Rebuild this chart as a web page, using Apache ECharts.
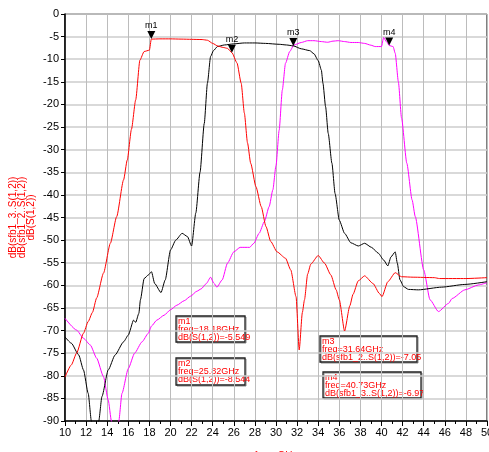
<!DOCTYPE html>
<html>
<head>
<meta charset="UTF-8">
<script src="https://cdn.jsdelivr.net/npm/echarts@6/dist/echarts.min.js"></script>
<style>
  html, body { margin: 0; padding: 0; background: #fff; }
  #chart { width: 489px; height: 452px; }
</style>
</head>
<body>
<div id="chart"></div>
<script>
// dB(S(1,2)) - red
const redFreq = [10, 10.6, 11.1, 11.75, 12.2, 12.6, 13, 13.65, 14.3, 14.9, 15.55, 15.9, 16.3, 16.7, 17.1, 17.5, 18, 18.18,
  19, 20, 21, 22, 23, 23.5, 24, 24.5, 25, 25.4, 25.82, 26.3, 26.7, 27, 27.3, 27.6, 28.1, 28.6, 29.05, 29.5, 30.1, 30.9,
  31.4, 31.9, 32.2, 32.5, 32.7, 33, 33.3, 34, 34.6, 35.2, 35.7, 36, 36.5, 37, 37.3, 37.8, 38.4, 39.2, 39.8, 40.05, 40.6,
  41.3, 41.9, 43, 45, 45.5, 48, 50];
const redDb = [-80.3, -77.6, -75, -70.6, -68, -66, -62.8, -57.3, -50.7, -44.8, -36.7, -32.3, -25.5, -19, -10.2, -8.3, -8, -5.55,
  -5.5, -5.5, -5.55, -5.6, -5.65, -5.8, -6.5, -7.1, -7.4, -7.6, -8.54, -10.8, -15.3, -21.9, -28.5, -33, -38.2, -42.6, -47, -50.3, -52.6, -54,
  -56.6, -62.5, -74.3, -66, -63.2, -57.5, -55.3, -53.4, -55.1, -57.7, -61, -63.2, -70.1, -64.5, -62, -59, -57.9, -59.6, -61.8, -62.5, -59.2,
  -57.2, -58.1, -58.2, -58.3, -58.5, -58.5, -58.3];

// dB(sfb1_2..S(1,2)) - black
const blackFreq = [10, 10.6, 11.3, 11.75, 12.2, 12.5, 12.85, 13.2, 13.5, 14.1, 14.75, 15.55, 16, 16.5, 16.7, 17, 17.15, 17.5, 17.9, 18.2,
  18.5, 19.1, 19.5, 20, 20.5, 21.1, 21.6, 22, 22.4, 22.8, 23.2, 23.5, 23.8, 24.07, 24.45, 25.1, 26, 27, 28, 29,
  30.3, 31, 31.64, 32.4, 33.2, 33.6, 34, 34.3, 34.45, 34.7, 34.95, 35.3, 35.6, 36, 36.5, 37.1, 37.8, 38.4, 39.05, 39.7,
  40.2, 40.6, 40.9, 41.3, 41.5, 41.75, 42.1, 42.55, 43.5, 45.7, 47.9, 50];
const blackDb = [-71.4, -72.8, -75.4, -78.7, -83.9, -90, -96, -90, -84.6, -78.7, -75.4, -72.5, -71, -67.7, -68.2, -66.2, -63.2, -58.5, -57.7, -57,
  -59.6, -61.6, -58.8, -52.2, -50, -48.5, -49.2, -51.3, -44, -35, -24.2, -15.3, -9.4, -8.1, -7.2, -6.85, -6.6, -6.4, -6.4, -6.5,
  -6.7, -6.85, -7.05, -7.7, -8.1, -8.8, -10.3, -12.4, -15.3, -20.5, -26.4, -33, -39.7, -45.6, -48.5, -50.6, -51.3, -50.7, -51.6, -52.9,
  -54.4, -55.7, -53.7, -52.6, -55.1, -58.8, -60.3, -60.9, -61, -60.4, -59.8, -59.2];

// dB(sfb1_3..S(1,2)) - magenta
const magFreq = [10, 11.1, 11.75, 12.4, 13, 13.65, 14.1, 14.4, 14.75, 15.1, 15.4, 16, 16.6, 17.3, 17.9, 18.2, 18.7, 19.4, 20, 20.6,
  21.3, 21.9, 22.5, 22.9, 23.4, 23.8, 24.1, 24.4, 24.9, 25.4, 26, 26.6, 27.5, 27.9, 28.4, 28.9, 29.35, 29.7, 30, 30.3,
  30.6, 30.9, 31.3, 31.7, 32.4, 33, 33.6, 34.3, 34.9, 35.4, 35.9, 36.5, 37.1, 37.8, 38.4, 39, 39.4, 40, 40.2, 40.5,
  40.73, 41.1, 41.3, 41.6, 41.9, 42.4, 42.9, 43.2, 44, 44.6, 45.4, 46.35, 46.7, 47.9, 49.2, 50];
const magDb = [-67.3, -69.9, -71.7, -73.2, -76.1, -80.2, -85.4, -90, -96, -90, -83.9, -78.4, -75, -72.5, -70.6, -69, -67.7, -66.6, -65.4, -64.4,
  -63.4, -62.4, -61.3, -60.8, -59.6, -58.2, -59.5, -60.4, -58.8, -55.1, -52.6, -51.6, -51.6, -50.7, -48.5, -45.9, -42.6, -38.9, -33.5, -25.7,
  -16.8, -10.9, -8.3, -6.85, -6.3, -5.9, -5.9, -6.1, -6.25, -6, -5.9, -6.1, -6.3, -6.3, -6.5, -6.9, -7.2, -7.2, -5.2, -6.2,
  -6.97, -7.2, -8.7, -15, -23, -33, -41.1, -44.8, -56.6, -63.2, -65.8, -64, -62.9, -61, -59.9, -59.4];

// markers
const markerNames = ['m1', 'm2', 'm3', 'm4'];
const markerFreq = [18.18, 25.82, 31.64, 40.73];
const markerDb = [-5.549, -8.544, -7.05, -6.97];

const zip = (xs, ys) => xs.map((x, i) => [x, ys[i]]);
const FONT = 'Liberation Sans, Arial, sans-serif';

function marks(idxs) {
    return {
        symbol: 'triangle',
        symbolRotate: 180,
        symbolSize: [8, 8],
        symbolOffset: [0, -4],
        itemStyle: { color: '#000' },
        label: {
            show: true, position: 'top', distance: 1,
            formatter: p => p.name, color: '#000', fontSize: 9, fontFamily: FONT
        },
        data: idxs.map(i => ({ name: markerNames[i], coord: [markerFreq[i], markerDb[i]] }))
    };
}

function lineSeries(name, color, data, markIdx) {
    return {
        name: name,
        type: 'line',
        data: data,
        showSymbol: false,
        symbol: 'none',
        smooth: 0.2,
        smoothMonotone: 'x',
        clip: true,
        lineStyle: { color: color, width: 1 },
        markPoint: marks(markIdx)
    };
}

function infoBox(x, y, w, h, text) {
    return {
        type: 'group',
        children: [
            { type: 'rect', shape: { x: x + 1, y: y + 1, width: w, height: h },
              style: { fill: 'none', stroke: '#888', lineWidth: 1 } },
            { type: 'rect', shape: { x: x, y: y, width: w, height: h },
              style: { fill: 'none', stroke: '#222', lineWidth: 1.3 } },
            { type: 'text', x: x + 2, y: y + 2,
              style: { text: text, fill: '#ff0000', font: '9px ' + FONT, lineHeight: 8 } }
        ]
    };
}

const chart = echarts.init(document.getElementById('chart'));
chart.setOption({
    animation: false,
    grid: { left: 65, top: 14, right: 2, bottom: 31, outerBoundsMode: 'none',
            show: true, borderColor: '#000', borderWidth: 1 },
    xAxis: {
        type: 'value', min: 10, max: 50, interval: 2,
        name: 'freq, GHz', nameLocation: 'middle', nameGap: 30, nameMoveOverlap: false,
        nameTextStyle: { color: '#ff0000', fontSize: 10, fontFamily: FONT },
        axisLine: { onZero: false, lineStyle: { color: '#000', width: 1.5 } },
        axisTick: { length: 5, lineStyle: { color: '#000' } },
        minorTick: { show: true, splitNumber: 2, length: 3, lineStyle: { color: '#000' } },
        axisLabel: { color: '#000', fontSize: 11, margin: 6, fontFamily: FONT },
        splitLine: { lineStyle: { color: '#bcbcbc', width: 1 } }
    },
    yAxis: {
        type: 'value', min: -90, max: 0, interval: 5,
        name: 'dB(sfb1_3..S(1,2))\ndB(sfb1_2..S(1,2))\ndB(S(1,2))',
        nameLocation: 'middle', nameRotate: 90, nameGap: 29, nameMoveOverlap: false,
        nameTextStyle: { color: '#ff0000', fontSize: 10, lineHeight: 9, fontFamily: FONT },
        axisLine: { onZero: false, lineStyle: { color: '#000', width: 1.5 } },
        axisTick: { length: 4, lineStyle: { color: '#000' } },
        axisLabel: { color: '#000', fontSize: 11, margin: 6, fontFamily: FONT },
        splitLine: { lineStyle: { color: '#cdcdcd', width: 1.5 } }
    },
    series: [
        lineSeries('dB(sfb1_3..S(1,2))', '#ff00ff', zip(magFreq, magDb), [3]),
        lineSeries('dB(sfb1_2..S(1,2))', '#000000', zip(blackFreq, blackDb), [2]),
        lineSeries('dB(S(1,2))', '#ff0000', zip(redFreq, redDb), [0, 1])
    ],
    graphic: [
        infoBox(176, 316, 69, 26, 'm1\nfreq=18.18GHz\ndB(S(1,2))=-5.549'),
        infoBox(176, 358, 69, 27, 'm2\nfreq=25.82GHz\ndB(S(1,2))=-8.544'),
        infoBox(320, 336, 97, 26, 'm3\nfreq=31.64GHz\ndB(sfb1_2..S(1,2))=-7.05'),
        infoBox(323, 372, 98, 26, 'm4\nfreq=40.73GHz\ndB(sfb1_3..S(1,2))=-6.97')
    ]
});
</script>
</body>
</html>
